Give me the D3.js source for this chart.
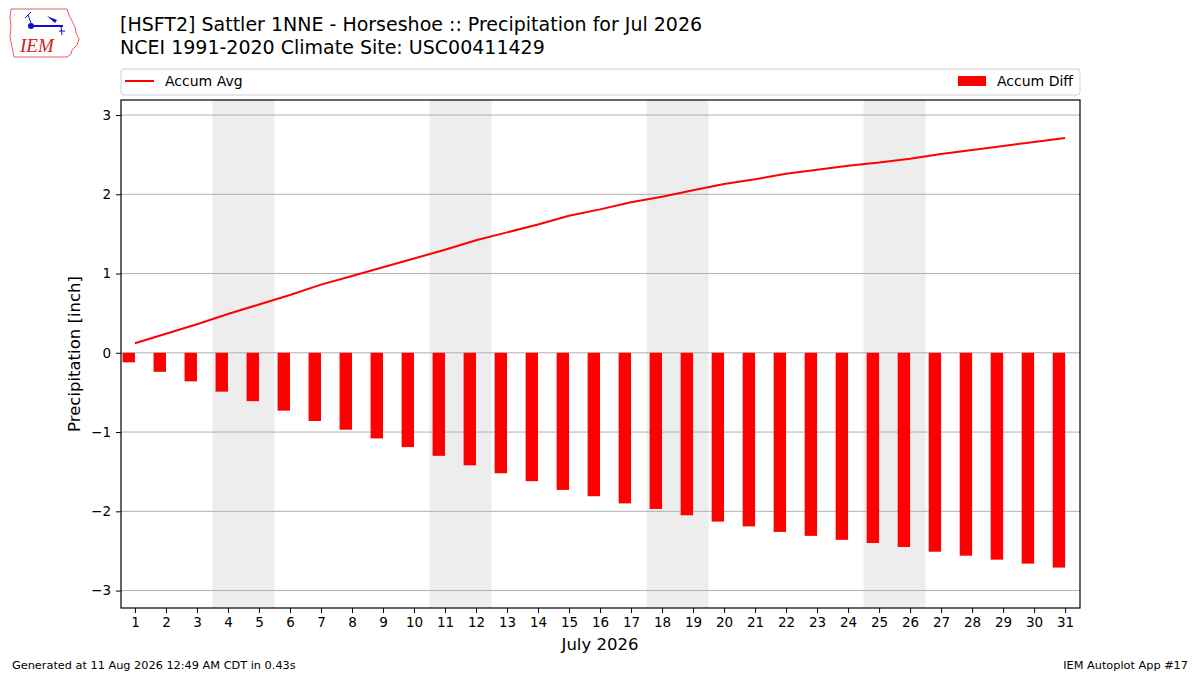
<!DOCTYPE html>
<html lang="en">
<head>
<meta charset="UTF-8">
<title>Precipitation for Jul 2026</title>
<script src="https://d3js.org/d3.v7.min.js"></script>
<style>
    body { margin: 0; background: #fff; }
    text { font-family: "DejaVu Sans", sans-serif; fill: #000; }
    .grid line { stroke: #b0b0b0; stroke-width: 1px; }
    .axis path, .axis line { stroke: #000; }
    .axis text { font-size: 13.5px; }
</style>
</head>
<body>
<div id="chart"></div>
<script>
// days of July 2026
var days = d3.range(1, 32);
// accumulated climatological average [inch]
var accumAvg = [0.12, 0.24, 0.36, 0.49, 0.61, 0.73, 0.86, 0.97, 1.08, 1.19,
                1.30, 1.42, 1.52, 1.62, 1.73, 1.81, 1.90, 1.97, 2.05, 2.13,
                2.19, 2.26, 2.31, 2.36, 2.40, 2.45, 2.51, 2.56, 2.61, 2.66, 2.71];
// accumulated departure (observed - average) [inch]
var accumDiff = [-0.12, -0.24, -0.36, -0.49, -0.61, -0.73, -0.86, -0.97, -1.08, -1.19,
                 -1.30, -1.42, -1.52, -1.62, -1.73, -1.81, -1.90, -1.97, -2.05, -2.13,
                 -2.19, -2.26, -2.31, -2.36, -2.40, -2.45, -2.51, -2.56, -2.61, -2.66, -2.71];
// weekend spans (Sat-Sun)
var weekends = [[4, 5], [11, 12], [18, 19], [25, 26]];
var yTicks = [-3, -2, -1, 0, 1, 2, 3];

var W = 1200, H = 675;
var margin = { left: 121, right: 120, top: 100, bottom: 67 };
var width = W - margin.left - margin.right,
    height = H - margin.top - margin.bottom;

var svg = d3.select("#chart").append("svg")
    .attr("width", W)
    .attr("height", H);

var x = d3.scaleLinear().domain([0.55, 31.48]).range([0, width]);
var y = d3.scaleLinear().domain([-3.22, 3.19]).range([height, 0]);

// titles
svg.append("text").attr("x", 120).attr("y", 31).style("font-size", "19px")
    .text("[HSFT2] Sattler 1NNE - Horseshoe :: Precipitation for Jul 2026");
svg.append("text").attr("x", 120).attr("y", 54).style("font-size", "19px")
    .text("NCEI 1991-2020 Climate Site: USC00411429");

// logo
var logo = svg.append("g").attr("transform", "translate(9,7)");
logo.append("path")
    .attr("d", "M2,2 L58,2 L60,8 L63,14 L66,20 L67,26 L70,32 L68,38 L63,43 L62,47 L58,50 L56,50 L5,50 L3,40 L1,30 L2,20 L1,10 Z")
    .attr("fill", "none").attr("stroke", "#e06060").attr("stroke-width", 1);
logo.append("line").attr("x1", 22).attr("y1", 19).attr("x2", 54).attr("y2", 19)
    .attr("stroke", "#1010c0").attr("stroke-width", 2);
logo.append("circle").attr("cx", 22).attr("cy", 19).attr("r", 3).attr("fill", "#1010c0");
logo.append("path").attr("d", "M38,9 L48,13 L46,16 Z").attr("fill", "#1010c0");
logo.append("path").attr("d", "M22,16 L19,8 M19,8 L16,11 M19,8 L22,5").attr("stroke", "#1010c0").attr("fill", "none");
logo.append("path").attr("d", "M52,19 L53,28 M50,24 L56,24").attr("stroke", "#1010c0").attr("fill", "none");
logo.append("text").attr("x", 11).attr("y", 45)
    .style("font-family", "'Liberation Serif', serif").style("font-style", "italic")
    .style("font-size", "19px").style("fill", "#d02020").text("IEM");

// legend box
var leg = svg.append("g");
leg.append("rect").attr("x", 121).attr("y", 69).attr("width", 959).attr("height", 26)
    .attr("rx", 3).attr("fill", "#fff").attr("stroke", "#d0d0d0");
leg.append("line").attr("x1", 125).attr("x2", 154).attr("y1", 81).attr("y2", 81)
    .attr("stroke", "red").attr("stroke-width", 2);
leg.append("text").attr("x", 165).attr("y", 86).style("font-size", "14px").text("Accum Avg");
leg.append("rect").attr("x", 958).attr("y", 76).attr("width", 28).attr("height", 10).attr("fill", "red");
leg.append("text").attr("x", 997).attr("y", 86).style("font-size", "14px").text("Accum Diff");

var g = svg.append("g").attr("transform", "translate(" + margin.left + "," + margin.top + ")");

// weekend shading
g.selectAll(".wkend").data(weekends).enter().append("rect")
    .attr("x", function(d) { return x(d[0] - 0.5); })
    .attr("width", function(d) { return x(d[1] + 0.5) - x(d[0] - 0.5); })
    .attr("y", 0).attr("height", height)
    .attr("fill", "#ededed");

// grid
g.append("g").attr("class", "grid")
    .selectAll("line").data(yTicks).enter().append("line")
    .attr("x1", 0).attr("x2", width)
    .attr("y1", function(d) { return y(d); }).attr("y2", function(d) { return y(d); });

// bars: drawn to the left of each day tick
g.selectAll(".bar").data(days).enter().append("rect")
    .attr("x", function(d) { return x(d - 0.4); })
    .attr("width", function(d) { return x(d) - x(d - 0.4); })
    .attr("y", function(d, i) { return y(Math.max(0, accumDiff[i])); })
    .attr("height", function(d, i) { return Math.abs(y(accumDiff[i]) - y(0)); })
    .attr("fill", "red");

// average line
var line = d3.line()
    .x(function(d) { return x(d); })
    .y(function(d, i) { return y(accumAvg[i]); });
g.append("path").datum(days)
    .attr("d", line)
    .attr("fill", "none").attr("stroke", "red").attr("stroke-width", 2);

// frame
g.append("rect").attr("width", width).attr("height", height)
    .attr("fill", "none").attr("stroke", "#000").attr("stroke-width", 1.2);

// axes
g.append("g").attr("class", "axis")
    .attr("transform", "translate(0," + height + ")")
    .call(d3.axisBottom(x).tickValues(days).tickFormat(d3.format("d")).tickSize(5).tickPadding(4))
    .call(function(s) { s.select(".domain").remove(); });

g.append("g").attr("class", "axis")
    .call(d3.axisLeft(y).tickValues(yTicks).tickSize(5).tickPadding(5)
        .tickFormat(function(d) { return d < 0 ? "\u2212" + Math.abs(d) : d; }))
    .call(function(s) { s.select(".domain").remove(); });

// axis titles
svg.append("text").attr("x", 600).attr("y", 650).attr("text-anchor", "middle")
    .style("font-size", "16.5px").text("July 2026");
svg.append("text").attr("transform", "translate(80,354) rotate(-90)")
    .attr("text-anchor", "middle").style("font-size", "16.5px").text("Precipitation [inch]");

// footer
svg.append("text").attr("x", 12).attr("y", 669).style("font-size", "11.3px")
    .text("Generated at 11 Aug 2026 12:49 AM CDT in 0.43s");
svg.append("text").attr("x", 1188).attr("y", 669).attr("text-anchor", "end")
    .style("font-size", "11.3px").text("IEM Autoplot App #17");
</script>
</body>
</html>
